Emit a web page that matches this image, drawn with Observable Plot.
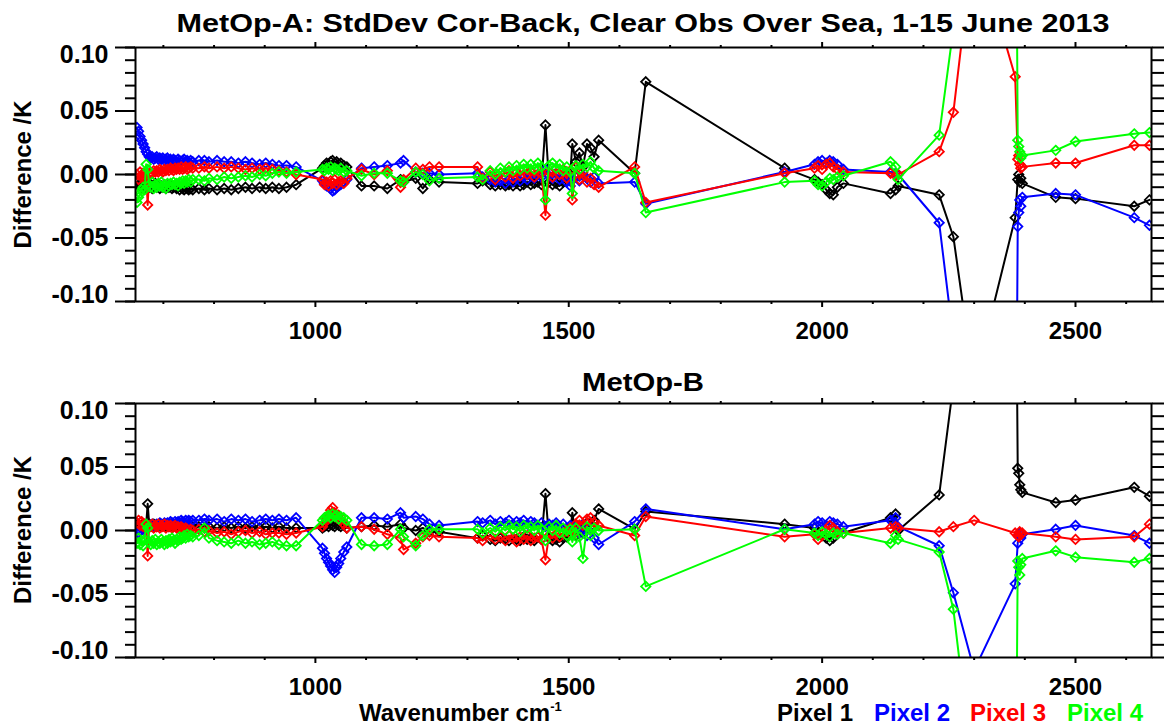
<!DOCTYPE html>
<html><head><meta charset="utf-8">
<script src="https://cdn.jsdelivr.net/npm/d3@7"></script>
<script src="https://cdn.jsdelivr.net/npm/@observablehq/plot@0.6"></script>
<style>
html,body{margin:0;padding:0;background:#fff;}
#fig{position:relative;width:1168px;height:726px;overflow:hidden;font-family:"Liberation Sans",Arial,sans-serif;}
#fig svg{position:absolute;left:0;}
</style></head><body><div id="fig"></div>
<script>
// Channel wavenumbers (cm-1)
const wavenumber = [648,651,654,657,660,663,666,669,672,675,678,681,684,687,690,693,696,699,702,705,708,711,714,717,720,723,726,729,732,735,738,741,744,747,750,754,758,
 770,781,790,806,820,834,848,862,875,890,902,915,928,943,962,
 1014,1018,1022,1026,1030,1034,1038,1042,1046,1050,1056,1062,
 1091,1116,1142,1168,1174,1198,1212,1225,1244,
 1320,1330,1345,1355,1365,1375,1382,1390,1397,1404,1411,1418,1425,1432,1439,1446,1454,1461,1468,1475,1482,1489,1496,1503,1507,1514,1521,1528,1536,1543,1550,1559,
 1630,1652,
 1926,1985,1992,2000,2008,2015,2022,2030,2042,
 2135,2145,2150,
 2231,2259,2300,
 2381,2386,2388,2390,2392,2395,
 2461,2500,2616,2646];

// MetOp-A
const metopA_pixel1 = [-0.006,-0.009,-0.007,-0.010,-0.008,-0.011,-0.007,-0.009,-0.010,-0.008,-0.011,-0.009,-0.007,-0.010,-0.008,-0.011,-0.009,-0.010,-0.008,-0.011,-0.009,-0.010,-0.008,-0.011,-0.010,-0.009,-0.011,-0.010,-0.012,-0.010,-0.011,-0.012,-0.010,-0.011,-0.012,-0.011,-0.012,
 -0.011,-0.012,-0.011,-0.012,-0.011,-0.012,-0.011,-0.010,-0.011,-0.010,-0.011,-0.010,-0.011,-0.010,-0.008,
 0.005,0.007,0.009,0.008,0.010,0.011,0.009,0.010,0.008,0.009,0.007,0.006,
 -0.009,-0.009,-0.011,-0.004,-0.006,-0.003,-0.011,-0.004,-0.006,
 -0.007,-0.005,-0.008,-0.009,-0.008,-0.009,-0.008,-0.009,-0.007,-0.009,-0.008,-0.006,-0.008,-0.007,-0.006,-0.008,0.039,-0.006,-0.008,-0.007,-0.009,-0.006,-0.004,0.000,0.024,0.010,0.017,0.006,0.024,0.021,0.014,0.027,
 0.001,0.073,
 0.005,-0.004,-0.006,-0.008,-0.012,-0.015,-0.016,-0.010,-0.007,
 -0.015,-0.012,-0.009,
 -0.016,-0.049,-0.165,
 -0.034,-0.004,0.000,-0.006,-0.003,-0.007,
 -0.018,-0.019,-0.025,-0.020];
const metopA_pixel2 = [0.037,0.034,0.030,0.027,0.024,0.021,0.018,0.016,0.014,0.013,0.014,0.012,0.013,0.014,0.012,0.013,0.012,0.013,0.011,0.012,0.013,0.011,0.012,0.010,0.012,0.011,0.010,0.012,0.011,0.010,0.011,0.012,0.010,0.011,0.010,0.011,0.010,
 0.011,0.011,0.010,0.011,0.010,0.010,0.009,0.010,0.009,0.008,0.009,0.008,0.007,0.007,0.006,
 -0.005,-0.007,-0.009,-0.008,-0.011,-0.013,-0.012,-0.010,-0.009,-0.008,-0.006,-0.004,
 0.005,0.006,0.007,0.009,0.011,0.002,0.001,0.001,0.000,
 0.001,-0.002,-0.004,-0.006,-0.005,-0.007,-0.004,-0.006,-0.003,-0.005,-0.002,-0.004,-0.001,-0.003,0.000,-0.002,0.004,-0.001,-0.003,0.001,-0.004,-0.002,-0.006,-0.009,-0.004,-0.002,-0.005,-0.001,-0.003,-0.006,-0.002,-0.007,
 -0.006,-0.023,
 0.002,0.008,0.010,0.011,0.009,0.011,0.010,0.008,0.004,
 0.002,0.001,0.000,
 -0.038,-0.13,-0.30,
 -0.35,-0.041,-0.030,-0.020,-0.025,-0.018,
 -0.015,-0.016,-0.034,-0.040];
const metopA_pixel3 = [0.000,-0.004,0.002,-0.002,0.001,-0.003,0.002,-0.024,0.000,0.002,0.001,0.003,0.002,0.003,0.002,0.004,0.003,0.002,0.004,0.003,0.004,0.003,0.005,0.004,0.003,0.005,0.004,0.005,0.004,0.006,0.004,0.005,0.006,0.004,0.005,0.006,0.005,
 0.005,0.006,0.005,0.006,0.005,0.006,0.005,0.004,0.005,0.004,0.005,0.004,0.003,0.002,0.000,
 -0.004,-0.008,-0.006,-0.009,-0.005,-0.007,-0.004,-0.008,-0.006,-0.005,-0.007,-0.003,
 0.004,0.000,0.003,-0.010,-0.004,0.005,0.004,0.006,0.006,
 0.006,-0.003,0.002,-0.004,0.001,-0.002,0.003,-0.003,0.002,-0.001,0.004,0.000,0.003,-0.002,0.004,0.001,-0.032,0.002,-0.002,0.005,0.000,0.004,-0.003,0.003,-0.020,0.006,-0.004,0.002,-0.006,-0.003,-0.008,-0.010,
 0.006,-0.022,
 0.001,0.005,0.007,0.004,0.008,0.009,0.006,0.004,0.002,
 0.001,-0.001,0.000,
 0.018,0.049,0.188,
 0.077,0.012,0.015,0.008,0.005,0.006,
 0.009,0.009,0.023,0.023];
const metopA_pixel4 = [-0.022,-0.018,-0.015,-0.012,-0.010,-0.012,0.008,0.004,-0.008,-0.010,-0.006,-0.011,-0.008,-0.010,-0.007,-0.009,-0.006,-0.010,-0.008,-0.011,-0.007,-0.009,-0.007,-0.008,-0.006,-0.008,-0.007,-0.009,-0.006,-0.007,-0.005,-0.007,-0.005,-0.006,-0.004,-0.006,-0.004,
 -0.004,-0.005,-0.003,-0.004,-0.002,-0.003,-0.002,-0.001,-0.002,0.000,-0.001,0.001,0.002,0.001,0.002,
 0.004,0.003,0.005,0.004,0.006,0.003,0.005,0.004,0.003,0.005,0.002,0.003,
 -0.001,0.001,0.001,-0.005,-0.006,0.002,0.000,-0.005,-0.003,
 -0.002,-0.004,0.003,0.000,0.005,0.002,0.006,0.003,0.007,0.004,0.008,0.005,0.008,0.004,0.009,0.006,-0.020,0.007,0.009,0.005,0.008,0.003,0.006,0.002,-0.015,0.007,0.004,0.008,0.006,0.010,0.005,0.003,
 0.001,-0.030,
 -0.006,-0.005,-0.008,-0.009,-0.006,-0.003,-0.004,-0.002,-0.001,
 0.010,0.006,-0.004,
 0.031,0.115,0.30,
 0.35,0.027,0.022,0.018,0.013,0.015,
 0.019,0.026,0.032,0.033];

// MetOp-B
const metopB_pixel1 = [0.004,0.005,0.003,0.004,0.005,0.003,0.004,0.021,0.005,0.004,0.003,0.005,0.004,0.003,0.004,0.005,0.003,0.004,0.005,0.003,0.004,0.003,0.005,0.004,0.003,0.004,0.003,0.004,0.002,0.003,0.004,0.002,0.003,0.002,0.003,0.002,0.003,
 0.003,0.002,0.003,0.002,0.003,0.002,0.003,0.002,0.003,0.002,0.003,0.002,0.003,0.002,0.002,
 0.002,0.003,0.004,0.003,0.005,0.004,0.003,0.005,0.004,0.003,0.004,0.002,
 0.003,0.004,0.003,0.005,0.002,0.000,0.002,-0.001,-0.001,
 -0.006,-0.004,-0.007,-0.008,-0.006,-0.007,-0.008,-0.006,-0.007,-0.008,-0.005,-0.007,-0.006,-0.008,-0.005,-0.007,0.029,-0.006,-0.008,-0.007,-0.009,-0.006,-0.005,-0.003,0.014,-0.004,0.002,-0.002,0.006,0.003,0.008,0.017,
 0.001,0.015,
 0.005,0.002,-0.002,-0.004,-0.006,-0.008,-0.006,-0.003,-0.002,
 0.010,0.013,0.000,
 0.028,0.115,0.35,
 0.30,0.049,0.045,0.036,0.032,0.030,
 0.022,0.024,0.034,0.027];
const metopB_pixel2 = [-0.005,-0.002,0.000,0.002,0.001,0.003,0.002,0.004,0.003,0.004,0.005,0.003,0.004,0.005,0.004,0.006,0.005,0.004,0.006,0.005,0.006,0.005,0.007,0.006,0.005,0.007,0.006,0.007,0.006,0.008,0.007,0.006,0.008,0.007,0.008,0.007,0.008,
 0.008,0.009,0.008,0.009,0.007,0.009,0.008,0.009,0.007,0.008,0.009,0.008,0.009,0.008,0.010,
 -0.014,-0.018,-0.022,-0.025,-0.028,-0.031,-0.033,-0.029,-0.026,-0.022,-0.017,-0.013,
 0.010,0.010,0.009,0.014,0.010,0.011,0.009,0.005,0.004,
 0.007,0.006,0.008,0.005,0.007,0.006,0.008,0.005,0.007,0.006,0.008,0.005,0.007,0.006,0.004,0.006,0.003,0.005,0.004,0.006,0.003,0.005,0.002,0.004,0.001,0.003,-0.002,0.005,-0.004,0.002,-0.006,-0.011,
 0.007,0.017,
 0.001,0.005,0.007,0.006,0.004,0.007,0.006,0.005,0.003,
 0.008,0.010,0.003,
 -0.012,-0.049,-0.11,
 -0.042,-0.010,-0.004,-0.002,-0.006,-0.003,
 0.001,0.004,-0.004,-0.010];
const metopB_pixel3 = [0.006,0.008,0.004,0.007,0.003,0.005,0.002,-0.020,0.004,0.003,0.005,0.002,0.004,0.003,0.005,0.002,0.004,0.003,0.005,0.002,0.004,0.003,0.004,0.002,0.003,0.004,0.002,0.003,0.001,0.003,0.002,0.000,0.002,0.001,-0.001,0.001,0.000,
 0.001,-0.001,0.000,-0.002,-0.001,-0.003,-0.001,0.000,-0.002,-0.001,-0.003,-0.002,-0.002,-0.003,-0.002,
 0.003,0.006,0.009,0.012,0.016,0.018,0.014,0.010,0.012,0.008,0.005,0.002,
 0.003,0.001,-0.003,-0.006,-0.015,-0.010,-0.005,-0.004,-0.005,
 -0.006,-0.008,-0.004,-0.007,-0.005,-0.008,-0.004,-0.006,-0.009,-0.005,-0.007,-0.004,-0.008,-0.006,-0.005,-0.007,-0.023,-0.004,-0.006,-0.003,-0.005,-0.002,0.000,0.002,-0.004,0.005,0.008,0.004,0.009,0.010,0.006,0.004,
 -0.004,0.011,
 -0.005,-0.003,-0.007,-0.004,0.000,0.004,0.002,-0.001,-0.002,
 0.002,0.003,0.002,
 -0.001,0.003,0.008,
 -0.002,-0.004,-0.005,-0.001,-0.003,-0.002,
 -0.005,-0.007,-0.005,0.005];
const metopB_pixel4 = [-0.010,-0.006,-0.011,-0.008,-0.012,-0.007,0.005,0.002,-0.009,-0.011,-0.008,-0.010,-0.007,-0.011,-0.009,-0.010,-0.007,-0.009,-0.011,-0.008,-0.010,-0.007,-0.009,-0.006,-0.008,-0.010,-0.007,-0.008,-0.005,-0.007,-0.006,-0.004,-0.006,-0.003,-0.005,-0.004,-0.005,
 -0.004,0.002,-0.006,-0.008,-0.009,-0.010,-0.008,-0.010,-0.009,-0.011,-0.010,-0.009,-0.011,-0.012,-0.012,
 0.008,0.010,0.011,0.012,0.010,0.013,0.011,0.012,0.009,0.011,0.010,0.008,
 -0.011,-0.012,-0.011,0.001,-0.005,-0.012,-0.004,0.001,0.001,
 0.001,-0.002,0.002,-0.001,0.003,0.000,0.004,0.001,0.003,-0.001,0.004,0.002,0.003,0.000,0.004,0.001,-0.008,0.003,0.000,0.004,-0.002,0.002,-0.004,0.001,-0.009,0.002,-0.005,-0.022,0.003,-0.004,0.002,0.000,
 0.001,-0.044,
 0.001,-0.002,-0.004,-0.001,-0.003,-0.005,-0.002,-0.003,-0.002,
 -0.010,-0.004,-0.007,
 -0.017,-0.062,-0.20,
 -0.30,-0.024,-0.029,-0.035,-0.027,-0.022,
 -0.016,-0.021,-0.025,-0.022];

const pixelNames = ["Pixel 1", "Pixel 2", "Pixel 3", "Pixel 4"];
const pixelColors = ["#000000", "#0000ff", "#ff0000", "#00ff00"];
const xMajorTicks = [1000, 1500, 2000, 2500];
const xMinorTicks = [700, 800, 900, 1100, 1200, 1300, 1400, 1600, 1700, 1800, 1900, 2100, 2200, 2300, 2400, 2600];
const yLabelTicks = [0.05, 0.00, -0.05];
const yTopTick = [0.10];
const yBottomTick = [-0.10];
const yMajorTicks = [-0.10, -0.05, 0.00, 0.05, 0.10];
const yMinorTicks = [-0.10, -0.09, -0.08, -0.07, -0.06, -0.05, -0.04, -0.03, -0.02, -0.01, 0.00, 0.01, 0.02, 0.03, 0.04, 0.05, 0.06, 0.07, 0.08, 0.09, 0.10];
const titleA = "MetOp-A: StdDev Cor-Back, Clear Obs Over Sea, 1-15 June 2013";
const titleB = "MetOp-B";
const yLabel = "Difference /K";
const xLabel = "Wavenumber cm";
const xLabelSup = "-1";

const FONT = "Liberation Sans, Arial, Helvetica, sans-serif";

function panel(series, height, marginTop, marginBottom) {
  const marks = [];
  series.forEach((vals, k) => {
    const d = vals.map((v, i) => ({w: wavenumber[i], v, pixel: pixelNames[k]}));
    marks.push(Plot.line(d, {x: "w", y: "v", stroke: pixelColors[k], strokeWidth: 2, clip: true}));
    marks.push(Plot.dot(d, {x: "w", y: "v", stroke: pixelColors[k], symbol: "diamond2", r: 4.2, strokeWidth: 1.8, fill: "none", clip: true}));
  });
  const axStyle = {strokeWidth: 2, label: null};
  marks.push(
    Plot.axisX({anchor: "bottom", ticks: xMajorTicks, tickSize: 6, tickPadding: 14, tickFormat: d => String(d), fontSize: 24, fontWeight: "bold", ...axStyle}),
    Plot.axisX({anchor: "bottom", ticks: xMinorTicks, tickSize: 3, fill: "none", ...axStyle}),
    Plot.axisX({anchor: "top", ticks: xMajorTicks, tickSize: 6, fill: "none", ...axStyle}),
    Plot.axisX({anchor: "top", ticks: xMinorTicks, tickSize: 3, fill: "none", ...axStyle}),
    Plot.axisY({anchor: "left", ticks: yMajorTicks, tickSize: 20, fill: "none", ...axStyle}),
    Plot.axisY({anchor: "left", ticks: yMinorTicks, tickSize: 10, fill: "none", ...axStyle}),
    Plot.axisY({anchor: "left", ticks: yLabelTicks, tickSize: 0, tickPadding: 27, tickFormat: d => d.toFixed(2), fontSize: 25, fontWeight: "bold", label: null}),
    Plot.axisY({anchor: "left", ticks: yTopTick, tickSize: 0, tickPadding: 27, dy: 7, tickFormat: d => d.toFixed(2), fontSize: 25, fontWeight: "bold", label: null}),
    Plot.axisY({anchor: "left", ticks: yBottomTick, tickSize: 0, tickPadding: 27, dy: -7, tickFormat: d => d.toFixed(2), fontSize: 25, fontWeight: "bold", label: null}),
    Plot.axisY({anchor: "right", ticks: yMinorTicks, tickSize: 12, fill: "none", ...axStyle}),
    Plot.frame({strokeWidth: 2})
  );
  return Plot.plot({
    width: 1168, height, marginLeft: 135, marginRight: 17, marginTop, marginBottom,
    x: {domain: [645, 2650], label: null},
    y: {domain: [-0.1, 0.1], label: null},
    style: {fontFamily: FONT, fontSize: "24px", color: "black", background: "white", overflow: "visible"},
    marks
  });
}

const fig = document.getElementById("fig");
const svgTop = panel([metopA_pixel1, metopA_pixel2, metopA_pixel3, metopA_pixel4], 360, 47, 59);
svgTop.style.top = "0px";
fig.appendChild(svgTop);
const svgBot = panel([metopB_pixel1, metopB_pixel2, metopB_pixel3, metopB_pixel4], 366, 43, 69);
svgBot.style.top = "360px";
fig.appendChild(svgBot);

const sTop = d3.select(svgTop);
sTop.append("text").attr("x", 643).attr("y", 32).attr("text-anchor", "middle")
  .attr("font-family", FONT).attr("font-size", 26).attr("font-weight", "bold")
  .attr("textLength", 933).attr("lengthAdjust", "spacingAndGlyphs").text(titleA);
sTop.append("text").attr("transform", "translate(31,174.5) rotate(-90)").attr("text-anchor", "middle")
  .attr("font-family", FONT).attr("font-size", 24).attr("font-weight", "bold").text(yLabel);

const sBot = d3.select(svgBot);
sBot.append("text").attr("x", 643).attr("y", 31).attr("text-anchor", "middle")
  .attr("font-family", FONT).attr("font-size", 26).attr("font-weight", "bold")
  .attr("textLength", 122).attr("lengthAdjust", "spacingAndGlyphs").text(titleB);
sBot.append("text").attr("transform", "translate(31,170) rotate(-90)").attr("text-anchor", "middle")
  .attr("font-family", FONT).attr("font-size", 24).attr("font-weight", "bold").text(yLabel);
const xl = sBot.append("text").attr("x", 359).attr("y", 361).attr("text-anchor", "start")
  .attr("font-family", FONT).attr("font-size", 24).attr("font-weight", "bold");
xl.append("tspan").text(xLabel);
xl.append("tspan").attr("font-size", 13).attr("dy", -10).text(xLabelSup);
const legendX = [777, 874, 970, 1067];
pixelNames.forEach((name, k) => {
  sBot.append("text").attr("x", legendX[k]).attr("y", 361).attr("text-anchor", "start")
    .attr("font-family", FONT).attr("font-size", 24).attr("font-weight", "bold")
    .attr("fill", pixelColors[k]).text(name);
});
</script>
</body></html>
